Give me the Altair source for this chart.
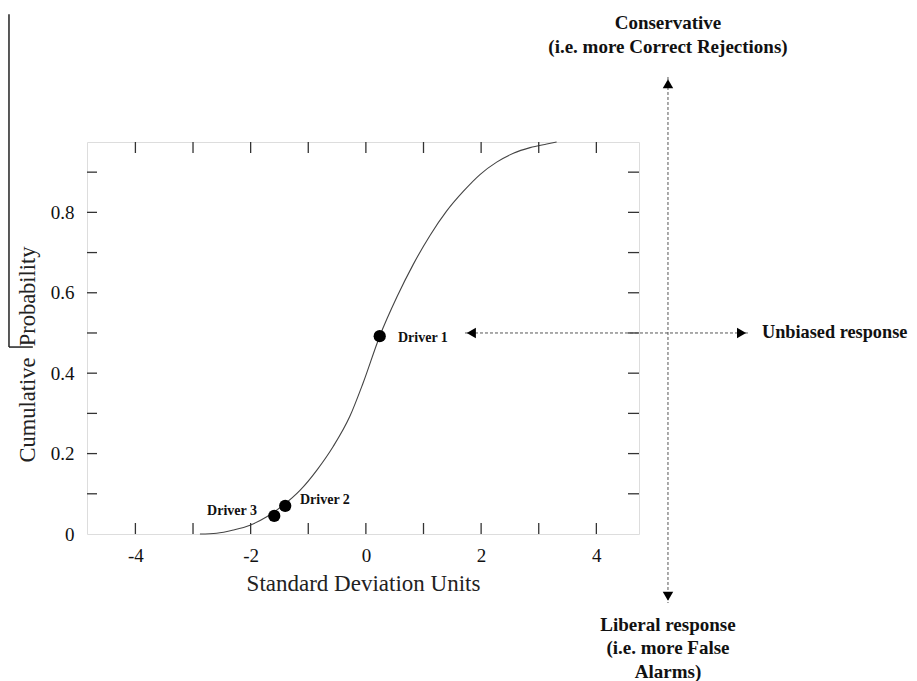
import altair as alt
import pandas as pd

FONT = "Liberation Serif"

# ---- data ----
curve_x = [-2.88, -2.59, -2.30, -2.01, -1.72, -1.43, -1.14, -0.85, -0.57, -0.28, -0.05,
           0.24, 0.54, 0.82, 1.11, 1.40, 1.69, 1.98, 2.27, 2.56, 2.85, 3.14, 3.31]
curve_y = [0.0, 0.002, 0.010, 0.022, 0.043, 0.072, 0.109, 0.159, 0.217, 0.292, 0.375,
           0.492, 0.590, 0.670, 0.742, 0.803, 0.852, 0.894, 0.925, 0.947, 0.961, 0.970, 0.975]

driver_names = ["Driver 1", "Driver 2", "Driver 3"]
driver_x = [0.24, -1.40, -1.59]
driver_y = [0.492, 0.070, 0.045]
label_x = [0.557, -1.144, -1.89]
label_y = [0.4875, 0.085, 0.057]
label_align = ["left", "left", "right"]

x_tick_values = [-4, -3, -2, -1, 0, 1, 2, 3, 4]
x_label_values = [-4, -2, 0, 2, 4]
y_tick_values = [0.1, 0.2, 0.3, 0.4, 0.5, 0.6, 0.7, 0.8, 0.9]
y_label_values = [0, 0.2, 0.4, 0.6, 0.8]

ann_text = ["Conservative", "(i.e. more Correct Rejections)", "Unbiased response",
            "Liberal response", "(i.e. more False", "Alarms)"]
ann_x = [5.243, 5.243, 6.874, 5.243, 5.243, 5.243]
ann_y = [1.2718, 1.2113, 0.5, -0.2263, -0.2836, -0.3432]
ann_align = ["center", "center", "left", "center", "center", "center"]

# dashed arrows (start, end)
arrow_x = [5.243, 1.72]
arrow_x2 = [5.243, 6.63]
arrow_y = [1.1367, 0.5]
arrow_y2 = [-0.1716, 0.5]
head_x = [5.243, 5.243, 1.83, 6.52]
head_y = [1.12, -0.155, 0.5, 0.5]
head_shape = ["triangle-up", "triangle-down", "triangle-left", "triangle-right"]

# stray bracket line at the left edge of the source figure
stray_x = [-6.194, -6.194]
stray_x2 = [-6.194, -5.78]
stray_y = [1.293, 0.465]
stray_y2 = [0.465, 0.465]

X_DOMAIN = [-4.84, 4.74]
Y_DOMAIN = [0, 0.975]
W, H = 552, 392

xs = alt.Scale(domain=X_DOMAIN, nice=False, zero=False)
ys = alt.Scale(domain=Y_DOMAIN, nice=False, zero=False)

x_axis = alt.Axis(values=x_label_values, tickSize=0, domain=False, grid=False,
                  labelFont=FONT, labelFontSize=19, labelPadding=12, labelColor="#111",
                  labelExpr="datum.value + ''",
                  title="Standard Deviation Units", titleFont=FONT, titleFontSize=23,
                  titleFontWeight="normal", titlePadding=7, titleColor="#222",
                  labelFlush=False)
y_axis = alt.Axis(values=y_label_values, tickSize=0, domain=False, grid=False,
                  labelFont=FONT, labelFontSize=19, labelPadding=13, labelColor="#111",
                  labelExpr="datum.value == 0 ? '0' : format(datum.value, '.1f')",
                  title="Cumulative\u00a0 Probability", titleFont=FONT, titleFontSize=22.5,
                  titleFontWeight="normal", titlePadding=11, titleColor="#222",
                  titleY=212, labelFlush=False)


def X(f):
    return alt.X(f, type="quantitative", scale=xs, axis=x_axis)


def Y(f):
    return alt.Y(f, type="quantitative", scale=ys, axis=y_axis)


curve_df = pd.DataFrame({"x": curve_x, "y": curve_y})
drivers_df = pd.DataFrame({"name": driver_names, "x": driver_x, "y": driver_y,
                           "lx": label_x, "ly": label_y, "align": label_align})
xt_df = pd.DataFrame({"v": x_tick_values})
yt_df = pd.DataFrame({"v": y_tick_values})
ann_df = pd.DataFrame({"t": ann_text, "x": ann_x, "y": ann_y, "align": ann_align})
arrow_df = pd.DataFrame({"x": arrow_x, "x2": arrow_x2, "y": arrow_y, "y2": arrow_y2})
head_df = pd.DataFrame({"x": head_x, "y": head_y, "shape": head_shape})
stray_df = pd.DataFrame({"x": stray_x, "x2": stray_x2, "y": stray_y, "y2": stray_y2})

curve = alt.Chart(curve_df).mark_line(color="#444", strokeWidth=1.1,
                                      interpolate="monotone").encode(x=X("x"), y=Y("y"))

dots = alt.Chart(drivers_df).mark_circle(size=150, color="black", opacity=1).encode(
    x=X("x"), y=Y("y"))

lab_left = alt.Chart(drivers_df).transform_filter("datum.align == 'left'").mark_text(
    font=FONT, fontSize=14, fontWeight="bold", align="left", baseline="middle",
    color="#111").encode(x=X("lx"), y=Y("ly"), text="name:N")
lab_right = alt.Chart(drivers_df).transform_filter("datum.align == 'right'").mark_text(
    font=FONT, fontSize=14, fontWeight="bold", align="right", baseline="middle",
    color="#111").encode(x=X("lx"), y=Y("ly"), text="name:N")

tick_color = "#333"
top_ticks = alt.Chart(xt_df).mark_rule(color=tick_color, strokeWidth=1.3).encode(
    x=X("v"), y=alt.value(0), y2=alt.value(11))
bot_ticks = alt.Chart(xt_df).mark_rule(color=tick_color, strokeWidth=1.3).encode(
    x=X("v"), y=alt.value(H), y2=alt.value(H - 11))
left_ticks = alt.Chart(yt_df).mark_rule(color=tick_color, strokeWidth=1.3).encode(
    y=Y("v"), x=alt.value(0), x2=alt.value(10))
right_ticks = alt.Chart(yt_df).mark_rule(color=tick_color, strokeWidth=1.3).encode(
    y=Y("v"), x=alt.value(W), x2=alt.value(W - 11))

arrows = alt.Chart(arrow_df).mark_rule(color="#555", strokeWidth=1,
                                       strokeDash=[3, 2]).encode(
    x=X("x"), x2="x2", y=Y("y"), y2="y2")
heads = alt.Chart(head_df).mark_point(filled=True, color="black", size=110,
                                      opacity=1).encode(
    x=X("x"), y=Y("y"), shape=alt.Shape("shape:N", scale=None))

ann_c = alt.Chart(ann_df).transform_filter("datum.align == 'center'").mark_text(
    font=FONT, fontSize=19, fontWeight="bold", align="center", baseline="middle",
    color="#111").encode(x=X("x"), y=Y("y"), text="t:N")
ann_l = alt.Chart(ann_df).transform_filter("datum.align == 'left'").mark_text(
    font=FONT, fontSize=18.3, fontWeight="bold", align="left", baseline="middle",
    color="#111").encode(x=X("x"), y=Y("y"), text="t:N")

stray = alt.Chart(stray_df).mark_rule(color="#222", strokeWidth=1.5).encode(
    x=X("x"), x2="x2", y=Y("y"), y2="y2")

chart = alt.layer(curve, top_ticks, bot_ticks, left_ticks, right_ticks, arrows, heads,
                  dots, lab_left, lab_right, ann_c, ann_l, stray).properties(
    width=W, height=H,
    padding={"left": 79, "top": 134, "right": 270, "bottom": 147},
    autosize=alt.AutoSizeParams(type="none"),
).configure_view(stroke="#333", strokeWidth=1.5).configure(background="white")

chart.save("out.html", embed_options={"renderer": "svg", "actions": False})
